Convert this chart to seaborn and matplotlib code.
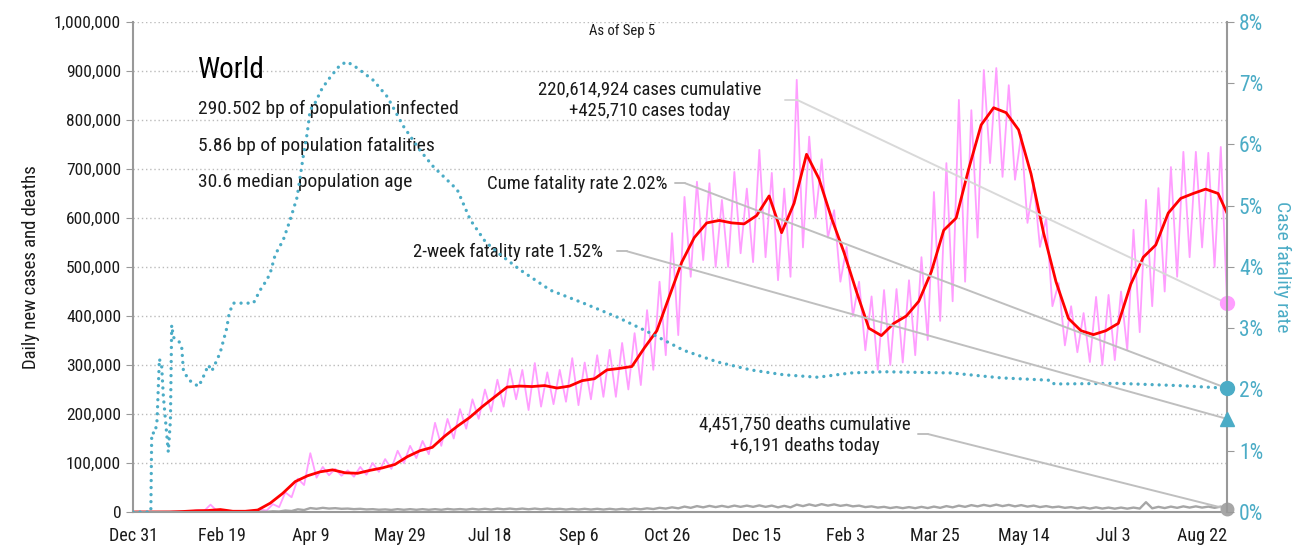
import numpy as np
import pandas as pd
import matplotlib
matplotlib.use("Agg")
import matplotlib.pyplot as plt
from matplotlib.ticker import FuncFormatter, MultipleLocator
import seaborn as sns

# plotting style
sns.set_style("white")
plt.rcParams['font.family'] = ['Roboto Condensed', 'Archivo Narrow', 'IBM Plex Sans Condensed', 'DejaVu Sans']

start = pd.Timestamp('2019-12-31')
today = pd.Timestamp('2021-09-05')

# 7-day average of daily new cases (thousands), one value per week from Dec 31
cases_avg_weekly = [0, 0, 0, 0.1, 1, 2.5, 3, 5, 1.5, 1.5,
                    4, 18, 38, 62, 74, 82, 86, 80, 79, 85,
                    90, 97, 113, 125, 132, 155, 175, 193, 215, 235,
                    255, 257, 256, 258, 253, 257, 268, 272, 290, 293,
                    297, 335, 370, 440, 510, 560, 590, 595, 590, 588,
                    605, 645, 570, 630, 730, 680, 600, 530, 450, 375,
                    360, 385, 400, 430, 490, 575, 600, 700, 790, 825,
                    815, 780, 690, 570, 470, 395, 370, 362, 370, 385,
                    465, 520, 545, 610, 640, 650, 659, 650]
cases_avg_today = 610

# daily new cases (thousands): weekly high and weekly low
cases_week_high = [0, 0, 0.1, 0.5, 2, 3.5, 15, 2.5, 1.5, 2,
                   5, 16, 40, 68, 120, 92, 88, 85, 92, 100,
                   108, 125, 135, 145, 182, 190, 210, 230, 250, 270,
                   292, 290, 304, 285, 290, 314, 305, 320, 331, 345,
                   365, 412, 470, 569, 643, 674, 671, 637, 694, 660,
                   739, 692, 660, 882, 766, 720, 616, 541, 470, 440,
                   453, 455, 473, 520, 653, 712, 841, 820, 902, 906,
                   871, 770, 673, 600, 467, 420, 406, 439, 443, 450,
                   576, 637, 661, 704, 735, 735, 733, 745]
cases_week_low = [0, 0, 0, 0.2, 1.5, 2.5, 2.5, 1.5, 1, 1.5,
                  3, 10, 30, 55, 70, 75, 74, 72, 76, 82,
                  88, 100, 110, 118, 135, 150, 170, 190, 205, 215,
                  230, 208, 215, 220, 225, 218, 230, 235, 235, 250,
                  259, 290, 320, 361, 480, 514, 500, 500, 528, 510,
                  520, 473, 480, 540, 600, 560, 470, 400, 330, 290,
                  300, 305, 320, 351, 390, 430, 470, 560, 712, 684,
                  678, 590, 541, 420, 340, 326, 306, 300, 310, 330,
                  367, 420, 450, 480, 520, 540, 500, 425.710]

# daily new deaths (thousands): weekly high and weekly low
deaths_week_high = [0, 0, 0, 0.1, 0.1, 0.1, 0.3, 0.1, 0.1, 0.1,
                    0.6, 1.5, 3, 5.5, 8, 8.5, 7.8, 7, 6.5, 5.8,
                    5.3, 5.8, 5.8, 5.8, 5.8, 6.3, 6, 6.5, 6.5, 7,
                    7, 7, 7, 7, 6.5, 6.5, 6.5, 6.5, 6.5, 6.5,
                    7, 7.5, 8.5, 9.5, 11, 12, 12.5, 12.5, 13, 13,
                    13.5, 13, 12.5, 15, 15.5, 16, 15.5, 14.5, 13, 11.5,
                    10.5, 10, 10, 10.5, 11, 12, 13, 14, 14.5, 15,
                    14.5, 14, 13, 12, 11, 10, 9.5, 9.5, 9, 9,
                    9, 20, 10.5, 11, 11.5, 11.5, 11, 11]
deaths_week_low = [0, 0, 0, 0, 0.05, 0.05, 0.1, 0.05, 0.05, 0.05,
                   0.3, 1, 2, 4, 6.5, 7, 6.5, 5.8, 5.2, 4.6,
                   4.2, 4.5, 4.5, 4.5, 4.5, 5, 4.8, 5, 5, 5.5,
                   5.5, 5.5, 5.5, 5.5, 5, 5, 5, 5, 5, 5,
                   5.5, 6, 7, 7.5, 8.5, 9.5, 10, 10, 10.5, 10.5,
                   10.5, 9.5, 9.5, 12, 12.5, 13, 12.5, 11.5, 10, 9,
                   8, 7.8, 7.8, 8, 8.5, 9.5, 10.5, 11.5, 12, 12,
                   11.5, 11, 10, 9.5, 8.5, 7.5, 7, 7, 6.8, 6.8,
                   7, 7.5, 8, 8.5, 9, 9, 8.5, 6.191]

# case fatality rate (%), day since Dec 31 2019
cfr_days = [0, 10, 10.5, 12.4, 13.5, 14.8, 16.1, 17, 19.8, 21, 21.7, 22.7, 25.5,
            27.3, 28.3, 31.6, 36.7, 38.6, 42.3, 44.2, 46.6, 48.9, 52.6, 54, 56.3,
            67.6, 71.3, 75.1, 77, 79.8, 84.3, 88.2, 92.1, 95.5, 97.8, 99.4, 102.2,
            106.2, 110.7, 116.3, 120.2, 125.8, 134.8, 142.7, 151.7, 161.2, 168.5,
            178.1, 182, 189.3, 197.8, 206.2, 217.4, 234.3, 252.8, 271.9, 290.4,
            309, 328, 346.6, 365.2, 384.3, 402.8, 421.3, 459, 487, 515.2, 517,
            552.8, 589.9, 614]
cfr_pct = [0, 0, 1.29, 1.29, 1.5, 2.5, 2.37, 1.9, 0.98, 1.5, 3.05, 2.85, 2.8,
           2.7, 2.3, 2.15, 2.05, 2.15, 2.4, 2.3, 2.45, 2.6, 3.0, 3.25, 3.41,
           3.41, 3.62, 3.79, 3.9, 4.2, 4.44, 4.77, 5.14, 5.8, 6.19, 6.56, 6.68,
           6.92, 7.1, 7.3, 7.35, 7.25, 7.05, 6.78, 6.3, 5.9, 5.64,
           5.37, 5.26, 4.77, 4.41, 4.2, 3.95, 3.62, 3.41, 3.18, 2.92,
           2.64, 2.45, 2.32, 2.24, 2.2, 2.27, 2.29, 2.27, 2.19, 2.15, 2.09,
           2.1, 2.06, 2.02]

cases_cume = 220614924
cases_today = 425710
deaths_cume = 4451750
deaths_today = 6191
cume_cfr = 2.02
two_week_cfr = 1.52

# build frames
weeks = np.arange(len(cases_avg_weekly))
avg = pd.DataFrame({
    'date': list(start + pd.to_timedelta(weeks * 7, 'D')) + [today],
    'value': np.array(cases_avg_weekly + [cases_avg_today]) * 1000})

hi_dates = start + pd.to_timedelta(weeks * 7 + 1.5, 'D')
lo_dates = start + pd.to_timedelta(weeks * 7 + 5, 'D')
daily = pd.DataFrame({
    'date': list(hi_dates) + list(lo_dates),
    'cases': np.array(cases_week_high + cases_week_low) * 1000,
    'deaths': np.array(deaths_week_high + deaths_week_low) * 1000}).sort_values('date')

cfr = pd.DataFrame({'date': start + pd.to_timedelta(cfr_days, 'D'),
                    'rate': np.array(cfr_pct) / 100})

teal = '#4BACC6'
pink = '#FF9EFF'
txt = '#1a1a1a'
axis_gray = '#999999'

fig = plt.figure(figsize=(12.99, 5.5), dpi=100)
ax = fig.add_axes([0.1024, 0.0691, 0.8422, 0.8909])
ax2 = ax.twinx()

# cases and deaths
sns.lineplot(data=daily, x='date', y='cases', ax=ax, color=pink, linewidth=1.3, estimator=None)
sns.lineplot(data=daily, x='date', y='deaths', ax=ax, color='#A6A6A6', linewidth=1.7, estimator=None)
sns.lineplot(data=avg, x='date', y='value', ax=ax, color='#FF0000', linewidth=2.0, estimator=None)

# case fatality rate
sns.lineplot(data=cfr, x='date', y='rate', ax=ax2, color=teal, linewidth=2.4, estimator=None)
cfr_line = ax2.lines[-1]
cfr_line.set_linestyle((0, (0.01, 2.1)))
cfr_line.set_dash_capstyle('round')

# end markers
ax.plot([today], [cases_today], 'o', color=pink, markersize=10, zorder=6, clip_on=False)
ax.plot([today], [deaths_today], 'o', color='#A6A6A6', markersize=9, zorder=6, clip_on=False)
ax2.plot([today], [cume_cfr / 100], 'o', color=teal, markersize=10, zorder=6, clip_on=False)
ax2.plot([today], [two_week_cfr / 100], '^', color=teal, markersize=10, zorder=6, clip_on=False)

# axes
ax.set_xlim(start, today)
ax.set_ylim(0, 1000000)
ax2.set_ylim(0, 0.08)
ax.yaxis.set_major_locator(MultipleLocator(100000))
ax.yaxis.set_major_formatter(FuncFormatter(lambda v, p: f'{v:,.0f}'))
ax2.yaxis.set_major_locator(MultipleLocator(0.01))
ax2.yaxis.set_major_formatter(FuncFormatter(lambda v, p: f'{v * 100:.0f}%'))
xticks = [start + pd.Timedelta(days=50 * k) for k in range(13)]
ax.set_xticks(xticks)
ax.set_xticklabels([f'{d:%b} {d.day}' for d in xticks])

ax.grid(axis='y', linestyle=(0, (1, 2)), color='#BBBBBB', linewidth=1)
ax.set_axisbelow(True)
ax.set_xlabel('')
ax.set_ylabel('Daily new cases and deaths', fontsize=13.5, color=txt, labelpad=10)
ax2.set_ylabel('Case fatality rate', fontsize=14, color=teal, rotation=270, labelpad=20)

for a in (ax, ax2):
    for s in a.spines.values():
        s.set_visible(False)
ax.spines['left'].set_visible(True)
ax.spines['bottom'].set_visible(True)
ax2.spines['right'].set_visible(True)
for s in (ax.spines['left'], ax.spines['bottom'], ax2.spines['right']):
    s.set_color(axis_gray)
    s.set_linewidth(1.5)

ax.tick_params(axis='both', direction='out', length=5, color=axis_gray, labelsize=12.5, labelcolor=txt)
ax.tick_params(axis='x', pad=6, labelsize=13)
ax2.tick_params(axis='y', direction='out', length=5, color=axis_gray, labelsize=15.5, labelcolor=teal)

# text block
ax.text(0.0594, 0.902, 'World', transform=ax.transAxes, fontsize=21, color='#000000', va='center')
stats = ['290.502 bp of population infected', '5.86 bp of population fatalities',
         '30.6 median population age']
for i, s in enumerate(stats):
    ax.text(0.0594, 0.822 - i * 0.0745, s, transform=ax.transAxes, fontsize=14, color=txt, va='center')
ax.text(0.447, 0.982, 'As of Sep 5', transform=ax.transAxes, fontsize=10.5, color=txt,
        ha='center', va='center')

# annotations with leader lines to the end markers
def leader(axis, fx0, fx1, fy, target, color):
    axis.plot([fx0, fx1], [fy, fy], transform=axis.transAxes, color=color, linewidth=1.4, clip_on=False)
    axis.annotate('', xy=(today, target), xytext=(fx1, fy), textcoords='axes fraction',
                  arrowprops=dict(arrowstyle='-', color=color, linewidth=1.4, shrinkA=0, shrinkB=0))

ax.text(0.4726, 0.841, f'{cases_cume:,} cases cumulative\n+{cases_today:,} cases today',
        transform=ax.transAxes, fontsize=13.5, color=txt, ha='center', va='center', linespacing=1.25)
leader(ax, 0.596, 0.607, 0.841, cases_today, '#D9D9D9')

ax.text(0.489, 0.669, f'Cume fatality rate {cume_cfr:.2f}%', transform=ax.transAxes,
        fontsize=13.5, color=txt, ha='right', va='center')
leader(ax2, 0.4954, 0.5046, 0.671, cume_cfr / 100, '#BFBFBF')

ax.text(0.4296, 0.5306, f'2-week fatality rate {two_week_cfr:.2f}%', transform=ax.transAxes,
        fontsize=13.5, color=txt, ha='right', va='center')
leader(ax2, 0.4424, 0.4516, 0.532, two_week_cfr / 100, '#BFBFBF')

ax.text(0.614, 0.157, f'{deaths_cume:,} deaths cumulative\n+{deaths_today:,} deaths today',
        transform=ax.transAxes, fontsize=13.5, color=txt, ha='center', va='center', linespacing=1.25)
leader(ax, 0.7176, 0.7267, 0.159, deaths_today, '#BFBFBF')

fig.savefig('out.png', dpi=100)
